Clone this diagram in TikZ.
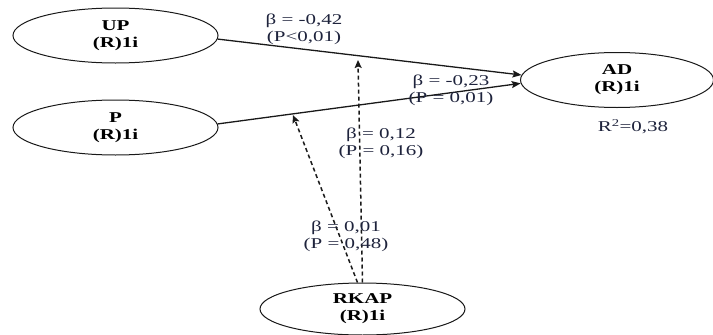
\documentclass[tikz,border=0pt]{standalone}
\usepackage{fontspec}
\setmainfont{Liberation Serif}[FakeStretch=1.4]
\usetikzlibrary{shapes.geometric,arrows.meta}
\definecolor{lbl}{RGB}{30,35,60}
\definecolor{edge}{RGB}{25,25,25}
\tikzset{
  latent/.style={ellipse, draw=edge, line width=1pt, inner sep=0pt,
    minimum width=205pt, minimum height=55pt, align=center,
    font=\fontsize{15}{17}\selectfont\bfseries},
  coef/.style={align=center, text=lbl, inner sep=0pt,
    font=\fontsize{15}{17}\selectfont},
  path/.style={draw=edge, line width=1.3pt, -{Stealth[length=9pt,width=7pt,inset=1.5pt]}},
  modpath/.style={path, line width=1.5pt, dash pattern=on 4pt off 3pt,
    -{Stealth[length=8pt,width=7pt,inset=1.5pt]}},
}
\begin{document}
\begin{tikzpicture}[x=1pt,y=-1pt]
\useasboundingbox (0,0) rectangle (713,335);
\node[latent] (UP) at (115.5,35.5) {UP\\(R)1i};
\node[latent] (P) at (115.5,127.5) {P\\(R)1i};
\node[latent, minimum width=193pt] (AD) at (617,80) {AD\\(R)1i};
\node[latent, minimum height=52pt] (RKAP) at (362.5,309) {RKAP\\(R)1i};
\coordinate (m1) at (358,60);
\coordinate (m2) at (293,115);
\draw[path] (UP.-2) -- (AD.177);
\draw[path] (P.2) -- (AD.182);
\draw[modpath] (RKAP.north) -- (m1);
\draw[modpath] ([xshift=-5pt]RKAP.north) -- (m2);
\node[coef] (c1) at (304,29) {β = -0,42\\(P<0,01)};
\node[coef] (c2) at (451,90) {β = -0,23\\(P = 0,01)};
\node[coef] (c3) at (381,143) {β = 0,12\\(P = 0,16)};
\node[coef] (c4) at (346,236) {β = 0,01\\(P = 0,48)};
\node[coef] (r2) at (633,127) {R\textsuperscript{2}=0,38};
\end{tikzpicture}
\end{document}
